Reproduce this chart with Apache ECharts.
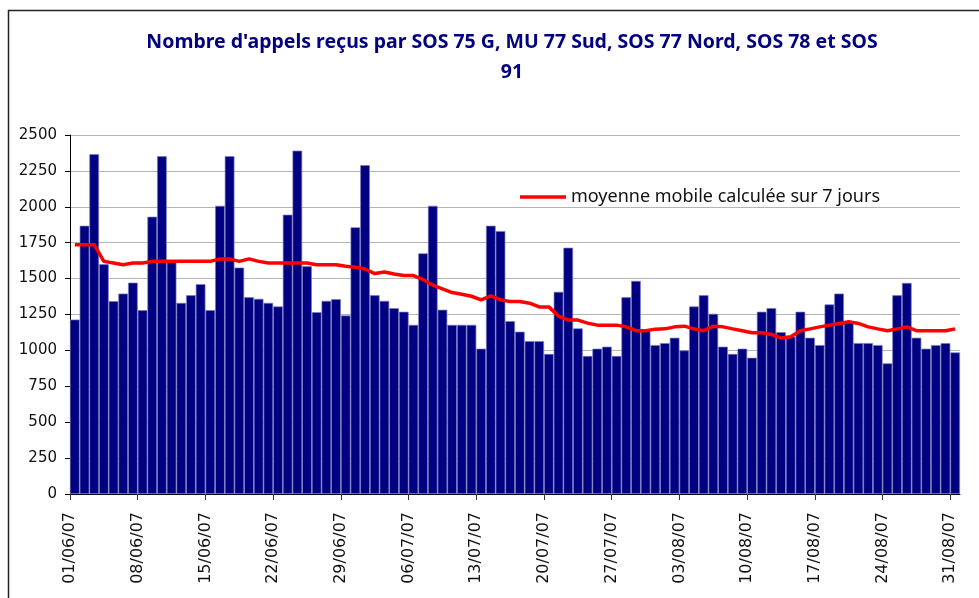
<!DOCTYPE html>
<html>
<head>
<meta charset="utf-8">
<script src="https://cdn.jsdelivr.net/npm/echarts@6/dist/echarts.min.js"></script>
<style>
  html, body { margin: 0; padding: 0; background: #fff; }
  #main { width: 979px; height: 598px; }
</style>
</head>
<body>
<div id="main"></div>
<script>
// jours du 01/06/07 au 31/08/07
var dates = [
  "01/06/07","02/06/07","03/06/07","04/06/07","05/06/07","06/06/07","07/06/07","08/06/07","09/06/07","10/06/07",
  "11/06/07","12/06/07","13/06/07","14/06/07","15/06/07","16/06/07","17/06/07","18/06/07","19/06/07","20/06/07",
  "21/06/07","22/06/07","23/06/07","24/06/07","25/06/07","26/06/07","27/06/07","28/06/07","29/06/07","30/06/07",
  "01/07/07","02/07/07","03/07/07","04/07/07","05/07/07","06/07/07","07/07/07","08/07/07","09/07/07","10/07/07",
  "11/07/07","12/07/07","13/07/07","14/07/07","15/07/07","16/07/07","17/07/07","18/07/07","19/07/07","20/07/07",
  "21/07/07","22/07/07","23/07/07","24/07/07","25/07/07","26/07/07","27/07/07","28/07/07","29/07/07","30/07/07",
  "31/07/07","01/08/07","02/08/07","03/08/07","04/08/07","05/08/07","06/08/07","07/08/07","08/08/07","09/08/07",
  "10/08/07","11/08/07","12/08/07","13/08/07","14/08/07","15/08/07","16/08/07","17/08/07","18/08/07","19/08/07",
  "20/08/07","21/08/07","22/08/07","23/08/07","24/08/07","25/08/07","26/08/07","27/08/07","28/08/07","29/08/07",
  "30/08/07","31/08/07"
];
// nombre d'appels par jour
var appels = [
  1215,1868,2366,1600,1343,1396,1472,
  1280,1931,2352,1620,1331,1384,1461,
  1280,2007,2352,1577,1370,1359,1331,
  1306,1945,2391,1586,1266,1345,1357,
  1243,1857,2290,1384,1345,1294,1269,
  1178,1676,2007,1283,1178,1178,1178,
  1012,1868,1831,1204,1130,1065,1065,
  975,1408,1715,1153,961,1012,1026,
  961,1370,1484,1147,1037,1051,1088,
  1000,1306,1384,1255,1026,975,1012,
  949,1269,1294,1127,1095,1269,1088,
  1037,1320,1396,1200,1051,1051,1037,
  910,1384,1470,1088,1012,1037,1051,
  986
];
// moyenne mobile sur 7 jours
var moyenne = [
  1736,1736,1736,1620,1609,1597,1609,
  1609,1620,1620,1620,1620,1620,1620,
  1620,1637,1637,1620,1637,1620,1609,
  1609,1609,1609,1609,1597,1597,1597,
  1586,1579,1567,1535,1546,1532,1521,
  1521,1493,1454,1428,1403,1391,1377,
  1352,1380,1352,1340,1340,1329,1303,
  1303,1239,1211,1211,1190,1176,1176,
  1176,1164,1137,1137,1148,1150,1164,
  1169,1150,1137,1169,1164,1150,1137,
  1123,1123,1111,1086,1095,1137,1150,
  1164,1176,1188,1199,1188,1164,1150,
  1137,1150,1164,1137,1137,1137,1137,
  1150
];
// jours affichés sur l'axe (un par semaine)
var jourTicks = [0,7,14,21,28,35,42,49,56,63,70,77,84,91];
var yTicks = [0,250,500,750,1000,1250,1500,1750,2000,2250,2500];

var nomMoyenne = "moyenne mobile calculée sur 7 jours";

const myChart = echarts.init(document.getElementById("main"), null, {renderer: "canvas"});

var barData = appels.map(function (v, i) { return [i + 0.5, v]; });
var lineData = moyenne.map(function (v, i) { return [i + 0.5, v]; });

const option = {
  animation: false,
  backgroundColor: "#fff",
  title: {
    text: "Nombre d'appels reçus par SOS 75 G, MU 77 Sud, SOS 77 Nord, SOS 78 et SOS\n91",
    left: 512,
    top: 27,
    padding: 0,
    textAlign: "center",
    textStyle: {
      color: "#000080",
      fontFamily: "Noto Sans",
      fontSize: 19.5,
      fontWeight: "bold",
      lineHeight: 30
    }
  },
  legend: {
    data: [nomMoyenne],
    left: 520,
    top: 188,
    padding: 0,
    icon: "rect",
    itemWidth: 46,
    itemHeight: 3.5,
    itemGap: 5,
    textStyle: { fontFamily: "Noto Sans", fontSize: 18, color: "#111" }
  },
  grid: {
    left: 70,
    right: 19,
    top: 135,
    bottom: 104,
    containLabel: false
  },
  xAxis: {
    type: "value",
    min: 0,
    max: dates.length,
    axisLine: { show: true, lineStyle: { color: "#000", width: 1 } },
    axisTick: {
      show: true,
      customValues: jourTicks,
      length: 6,
      lineStyle: { color: "#333" }
    },
    axisLabel: {
      customValues: jourTicks,
      rotate: 90,
      margin: 18,
      fontFamily: "DejaVu Sans",
      fontSize: 16,
      color: "#111",
      formatter: function (v) { return dates[v] || ""; }
    },
    splitLine: { show: false }
  },
  yAxis: {
    type: "value",
    min: 0,
    max: 2500,
    interval: 250,
    axisLine: { show: true, lineStyle: { color: "#000", width: 1 } },
    axisTick: { show: true, length: 5, lineStyle: { color: "#000" } },
    axisLabel: {
      margin: 13,
      fontFamily: "DejaVu Sans",
      fontSize: 15,
      color: "#111",
      customValues: yTicks,
      formatter: function (v) { return String(v); }
    },
    splitLine: { show: true, lineStyle: { color: "#b4b4b4", width: 1 } }
  },
  series: [
    {
      name: "appels",
      type: "bar",
      barCategoryGap: "0%",
      barGap: "0%",
      itemStyle: { color: "#000080", borderColor: "#7a7ac4", borderWidth: 0.7 },
      data: barData
    },
    {
      name: nomMoyenne,
      type: "line",
      showSymbol: false,
      symbol: "none",
      color: "#ff0000",
      lineStyle: { color: "#ff0000", width: 3.5 },
      z: 5,
      data: lineData
    }
  ],
  graphic: [
    {
      type: "rect",
      shape: { x: 8.5, y: 10.5, width: 1000, height: 700 },
      style: { fill: null, stroke: "#222", lineWidth: 1.5 },
      silent: true,
      z: 100
    }
  ]
};
myChart.setOption(option);
</script>
</body>
</html>
